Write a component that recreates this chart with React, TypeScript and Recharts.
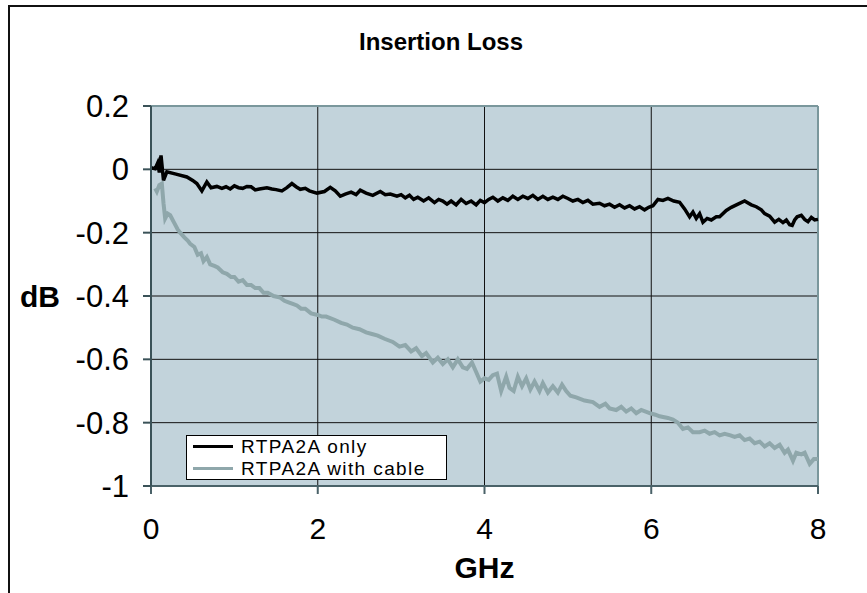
import {
  CartesianGrid,
  Line,
  LineChart,
  ReferenceLine,
  XAxis,
  YAxis,
} from "recharts";

// RTPA2A only (black trace)
const onlyGHz = [
  0.0, 0.05, 0.08, 0.1, 0.12, 0.15, 0.19, 0.3, 0.43, 0.5, 0.55, 0.61, 0.67,
  0.72, 0.79, 0.85, 0.9, 0.95, 1.0, 1.05, 1.1, 1.15, 1.2, 1.25, 1.3, 1.39,
  1.45, 1.5, 1.57, 1.63, 1.69, 1.74, 1.79, 1.85, 1.9, 1.99, 2.08, 2.15, 2.21,
  2.27, 2.33, 2.4, 2.46, 2.51, 2.58, 2.66, 2.75, 2.81, 2.87, 2.95, 3.0, 3.05,
  3.1, 3.15, 3.2, 3.27, 3.33, 3.4, 3.45, 3.5, 3.55, 3.6, 3.66, 3.72, 3.78,
  3.84, 3.9, 3.95, 4.0, 4.05, 4.1, 4.16, 4.22, 4.28, 4.34, 4.4, 4.46, 4.52,
  4.58, 4.64, 4.7, 4.76, 4.82, 4.88, 4.94, 5.0, 5.06, 5.12, 5.18, 5.24, 5.3,
  5.38, 5.44, 5.5, 5.56, 5.62, 5.68, 5.74, 5.8, 5.86, 5.92, 5.97, 6.02, 6.08,
  6.14, 6.2, 6.27, 6.34, 6.4, 6.46, 6.5, 6.54, 6.58, 6.62, 6.67, 6.72, 6.78,
  6.82, 6.9, 6.96, 7.04, 7.12, 7.2, 7.26, 7.32, 7.36, 7.42, 7.48, 7.53, 7.58,
  7.62, 7.66, 7.69, 7.72, 7.75, 7.8, 7.84, 7.88, 7.92, 7.96, 8.0,
];
const onlyDb = [
  0.005, 0.002, 0.02, -0.01, 0.044, -0.035, -0.008, -0.015, -0.024, -0.035,
  -0.045, -0.068, -0.04, -0.058, -0.054, -0.06, -0.055, -0.062, -0.052,
  -0.058, -0.06, -0.054, -0.055, -0.065, -0.062, -0.058, -0.062, -0.064,
  -0.068, -0.058, -0.045, -0.055, -0.063, -0.06, -0.068, -0.075, -0.07,
  -0.057, -0.068, -0.085, -0.078, -0.072, -0.08, -0.066, -0.075, -0.082,
  -0.07, -0.08, -0.078, -0.085, -0.08, -0.09, -0.082, -0.095, -0.088, -0.1,
  -0.09, -0.105, -0.095, -0.1, -0.11, -0.1, -0.112, -0.095, -0.108, -0.1,
  -0.112, -0.098, -0.105, -0.095, -0.088, -0.1, -0.09, -0.098, -0.085, -0.095,
  -0.085, -0.092, -0.082, -0.095, -0.085, -0.095, -0.088, -0.095, -0.085,
  -0.092, -0.1, -0.095, -0.105, -0.098, -0.11, -0.107, -0.115, -0.11, -0.12,
  -0.112, -0.122, -0.115, -0.125, -0.118, -0.128, -0.12, -0.115, -0.095,
  -0.098, -0.092, -0.1, -0.104, -0.125, -0.15, -0.135, -0.155, -0.14, -0.167,
  -0.155, -0.16, -0.15, -0.15, -0.13, -0.12, -0.11, -0.1, -0.112, -0.118,
  -0.128, -0.14, -0.148, -0.167, -0.158, -0.168, -0.16, -0.175, -0.177, -0.16,
  -0.15, -0.145, -0.158, -0.165, -0.152, -0.16, -0.158,
];

// RTPA2A with cable (grey trace)
const cableGHz = [
  0.05, 0.07, 0.1, 0.13, 0.15, 0.17, 0.2, 0.23, 0.28, 0.32, 0.35, 0.4, 0.44,
  0.47, 0.52, 0.56, 0.6, 0.63, 0.67, 0.71, 0.76, 0.8, 0.86, 0.91, 0.96, 1.0,
  1.05, 1.1, 1.15, 1.2, 1.25, 1.3, 1.35, 1.4, 1.47, 1.55, 1.6, 1.65, 1.7, 1.75,
  1.8, 1.85, 1.92, 2.0, 2.05, 2.1, 2.2, 2.28, 2.35, 2.42, 2.5, 2.58, 2.65,
  2.72, 2.8, 2.9, 2.98, 3.05, 3.12, 3.18, 3.25, 3.3, 3.38, 3.44, 3.5, 3.56,
  3.62, 3.68, 3.74, 3.79, 3.85, 3.9, 3.95, 4.0, 4.05, 4.1, 4.15, 4.2, 4.26,
  4.3, 4.35, 4.4, 4.45, 4.5, 4.55, 4.6, 4.66, 4.7, 4.76, 4.82, 4.88, 4.93,
  4.98, 5.03, 5.1, 5.2, 5.3, 5.38, 5.45, 5.5, 5.58, 5.64, 5.7, 5.76, 5.82,
  5.88, 5.98, 6.05, 6.1, 6.2, 6.26, 6.32, 6.38, 6.44, 6.5, 6.58, 6.64, 6.7,
  6.76, 6.82, 6.88, 6.95, 7.0, 7.06, 7.12, 7.18, 7.24, 7.3, 7.36, 7.42, 7.48,
  7.54, 7.6, 7.64, 7.7, 7.74, 7.8, 7.84, 7.9, 7.95, 8.0,
];
const cableDb = [
  -0.06, -0.07, -0.05, -0.045, -0.107, -0.155, -0.14, -0.145, -0.17, -0.19,
  -0.2, -0.215, -0.225, -0.235, -0.245, -0.27, -0.265, -0.29, -0.277, -0.3,
  -0.305, -0.31, -0.325, -0.33, -0.34, -0.34, -0.355, -0.35, -0.365, -0.365,
  -0.375, -0.375, -0.39, -0.39, -0.4, -0.405, -0.415, -0.42, -0.425, -0.43,
  -0.44, -0.44, -0.455, -0.46, -0.465, -0.465, -0.475, -0.485, -0.49, -0.5,
  -0.505, -0.515, -0.52, -0.525, -0.535, -0.545, -0.56, -0.555, -0.575,
  -0.565, -0.59, -0.58, -0.61, -0.595, -0.615, -0.6, -0.625, -0.6, -0.625,
  -0.63, -0.61, -0.64, -0.67, -0.66, -0.665, -0.65, -0.645, -0.7, -0.655,
  -0.69, -0.7, -0.655, -0.685, -0.66, -0.695, -0.67, -0.7, -0.675, -0.705,
  -0.685, -0.705, -0.68, -0.7, -0.715, -0.72, -0.73, -0.735, -0.75, -0.74,
  -0.755, -0.76, -0.75, -0.765, -0.755, -0.77, -0.76, -0.77, -0.775, -0.78,
  -0.785, -0.79, -0.8, -0.82, -0.815, -0.83, -0.83, -0.825, -0.835, -0.83,
  -0.84, -0.835, -0.84, -0.845, -0.84, -0.855, -0.85, -0.865, -0.86, -0.875,
  -0.865, -0.88, -0.87, -0.895, -0.885, -0.92, -0.895, -0.9, -0.895, -0.93,
  -0.915, -0.915,
];

const seriesNames = ["RTPA2A only", "RTPA2A with cable"];
const seriesColours = ["#000000", "#8fa7ab"];
const xTicks = [0, 2, 4, 6, 8];
const yTicks = [-1, -0.8, -0.6, -0.4, -0.2, 0, 0.2];

const onlyData = onlyGHz.map((ghz, i) => ({ ghz, db: onlyDb[i] }));
const cableData = cableGHz.map((ghz, i) => ({ ghz, db: cableDb[i] }));

const font = "'Liberation Sans', Arial, sans-serif";

export default function App() {
  return (
    <div
      style={{
        position: "absolute",
        left: 0,
        top: 0,
        width: 867,
        height: 593,
        overflow: "hidden",
        background: "#fff",
        fontFamily: font,
      }}
    >
      {/* outer chart frame, right and bottom edges fall off the picture */}
      <div
        style={{
          position: "absolute",
          left: 8,
          top: 5,
          width: 1000,
          height: 1000,
          borderLeft: "2px solid #111",
          borderTop: "2px solid #111",
        }}
      />
      <div
        style={{
          position: "absolute",
          left: 0,
          width: 882,
          top: 30,
          textAlign: "center",
          fontWeight: "bold",
          fontSize: 24,
          lineHeight: "24px",
        }}
      >
        Insertion Loss
      </div>
      <LineChart
        width={867}
        height={593}
        margin={{ top: 106, right: 49, left: 0, bottom: 0 }}
        style={{ position: "absolute", left: 0, top: 0 }}
      >
        <CartesianGrid
          fill="#c2d3db"
          fillOpacity={1}
          stroke="#111"
          strokeWidth={1}
        />
        <XAxis
          type="number"
          dataKey="ghz"
          domain={[0, 8]}
          ticks={xTicks}
          height={107}
          tickSize={8}
          tickMargin={24}
          stroke="#4a6268"
          strokeWidth={2}
          tick={{ fill: "#000", fontSize: 30, fontFamily: font }}
          label={{
            value: "GHz",
            position: "insideBottom",
            offset: 15,
            fill: "#000",
            fontSize: 30,
            fontWeight: "bold",
            fontFamily: font,
          }}
        />
        <YAxis
          type="number"
          domain={[-1, 0.2]}
          ticks={yTicks}
          width={151}
          tickSize={8}
          tickMargin={14}
          stroke="#3a5258"
          strokeWidth={2}
          tickFormatter={(v: number) => String(Number(v.toFixed(1)))}
          tick={{ fill: "#000", fontSize: 31, fontFamily: font }}
          label={{
            value: "dB",
            position: "insideLeft",
            offset: 20,
            fill: "#000",
            fontSize: 30,
            fontWeight: "bold",
            fontFamily: font,
          }}
        />
        <ReferenceLine y={0.2} stroke="#7a979c" strokeWidth={2} />
        <ReferenceLine x={8} stroke="#7a979c" strokeWidth={2} />
        <Line
          data={cableData}
          dataKey="db"
          name={seriesNames[1]}
          stroke={seriesColours[1]}
          strokeWidth={4}
          dot={false}
          type="linear"
          isAnimationActive={false}
        />
        <Line
          data={onlyData}
          dataKey="db"
          name={seriesNames[0]}
          stroke={seriesColours[0]}
          strokeWidth={3.5}
          dot={false}
          type="linear"
          isAnimationActive={false}
        />
      </LineChart>
      <div
        style={{
          position: "absolute",
          left: 186,
          top: 435,
          width: 261,
          height: 45,
          boxSizing: "border-box",
          border: "1px solid #000",
          background: "#fff",
          fontSize: 19,
          letterSpacing: 1.4,
          padding: "0 0 0 6px",
        }}
      >
        {seriesNames.map((name, i) => (
          <div
            key={name}
            style={{
              display: "flex",
              alignItems: "center",
              height: 21.5,
              lineHeight: "21.5px",
            }}
          >
            <span
              style={{
                display: "inline-block",
                width: 40,
                height: 3,
                background: seriesColours[i],
                marginRight: 8,
              }}
            />
            {name}
          </div>
        ))}
      </div>
    </div>
  );
}
